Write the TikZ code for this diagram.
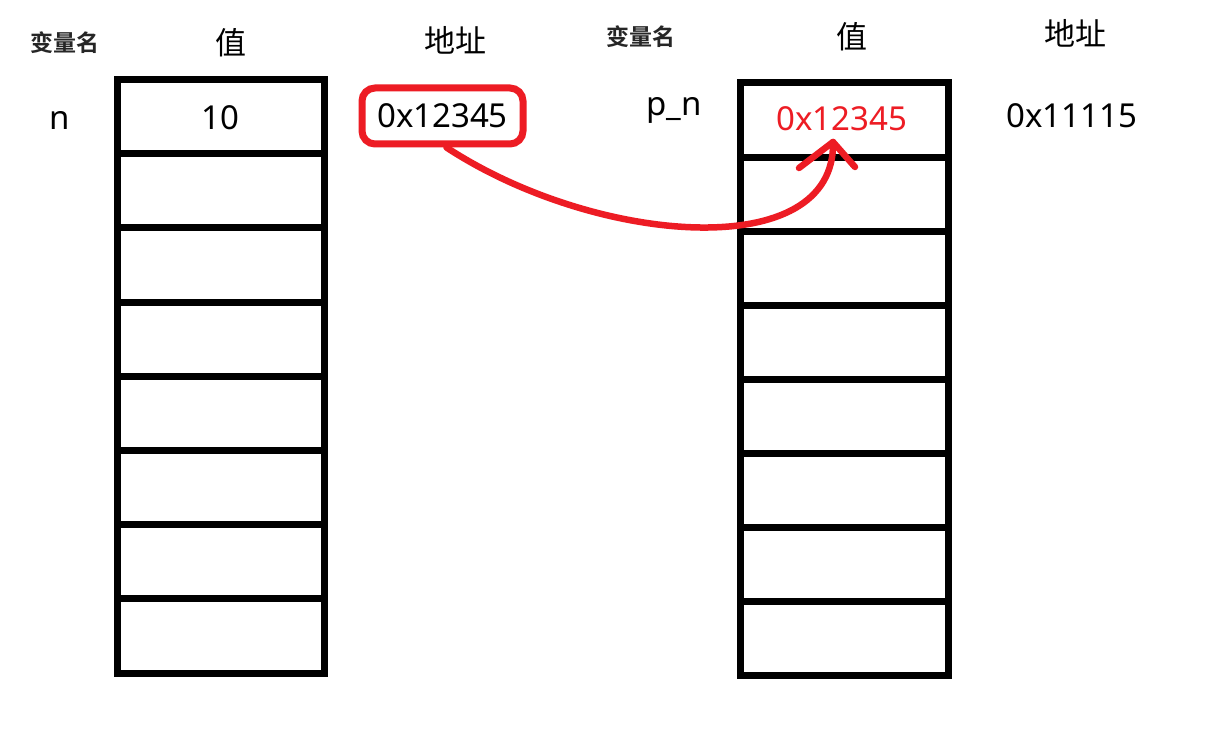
\documentclass[tikz,border=0pt]{standalone}
\usepackage{fontspec}
\setmainfont{Noto Sans}
\newfontfamily\cjk{Noto Sans CJK SC}
\newfontfamily\cjkb{Noto Sans CJK SC Bold}
\definecolor{pred}{RGB}{237,28,36}
\begin{document}
\begin{tikzpicture}[x=1pt,y=-1pt,
  cellL/.style={draw=black, line width=7pt, minimum width=207pt, minimum height=74.2pt, inner sep=0pt, outer sep=0pt},
  cellR/.style={draw=black, line width=7pt, minimum width=207.5pt, minimum height=74.1pt, inner sep=0pt, outer sep=0pt},
  head/.style={font=\cjk\fontsize{31}{31}\selectfont, inner sep=0pt},
  headsm/.style={font=\cjkb\fontsize{23}{23}\selectfont, inner sep=0pt, text=black!85},
  val/.style={font=\fontsize{33}{33}\selectfont, inner sep=0pt, anchor=base},
  redline/.style={draw=pred, line width=6.5pt, line cap=round, line join=round}
]
\useasboundingbox (0,0) rectangle (1213,730);
\fill[white] (0,0) rectangle (1213,730);
% left column
\foreach \i in {0,...,7} {
  \node[cellL] (L\i) at (221, {79.5+74.2*(\i+0.5)}) {};
}
% right column
\foreach \i in {0,...,7} {
  \node[cellR] (R\i) at (844.25, {83+74.1*(\i+0.5)}) {};
}
% headings
\node[headsm] (vn1) at (64.5,43) {变量名};
\node[head] (v1) at (231,43) {值};
\node[head] (a1) at (455,40) {地址};
\node[headsm] (vn2) at (641,37) {变量名};
\node[head] (v2) at (852,37) {值};
\node[head] (a2) at (1075,33) {地址};
% values
\node[val] (n) at (60,130) {n};
\node[val] (ten) at (220,130) {10};
\node[val] (pn) at (674,116) {p\_n};
\node[val, text=pred] (pval) at (842,130.5) {0x12345};
\node[val] (paddr) at (1072,128) {0x11115};
% red address box
\node[draw=pred, line width=7pt, rounded corners=13pt, minimum width=161pt, minimum height=56pt,
      inner sep=0pt, font=\fontsize{33}{33}\selectfont] (addr) at (442.5,116) {\raisebox{-0.0pt}{0x12345}};
% arrow
\coordinate (tip) at (833,142);
\coordinate (barbL) at (799,168);
\coordinate (barbR) at (855,167);
\draw[redline] ([xshift=4pt]addr.south) .. controls (595,245) and (836,265) .. (tip);
\draw[redline] (barbL) -- (tip) -- (barbR);
\end{tikzpicture}
\end{document}
